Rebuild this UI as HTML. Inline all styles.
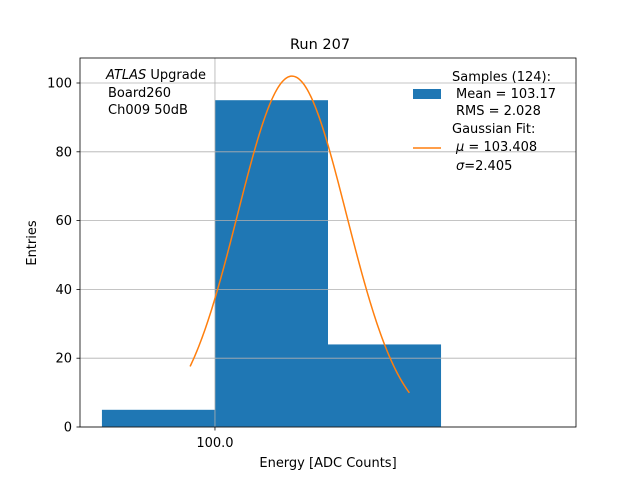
<!DOCTYPE html>
<html><head><meta charset="utf-8"><style>
body{margin:0;background:#fff;font-family:"DejaVu Sans","Liberation Sans",sans-serif}
</style></head><body>
<svg width="640" height="480" xmlns="http://www.w3.org/2000/svg" font-family="DejaVu Sans, Liberation Sans, sans-serif">
<rect width="640" height="480" fill="#fff"/>
<g id="bars"></g>
<g id="grid"></g>
<path id="fit" fill="none" stroke="#ff7f0e" stroke-width="1.5"/>
<rect x="80" y="58" width="496" height="369" fill="none" stroke="#000" stroke-width="0.8"/>
<g id="ticks" font-size="13" fill="#000"></g>
<text x="320" y="49" text-anchor="middle" font-size="14.5">Run 207</text>
<text x="328" y="467" text-anchor="middle" font-size="13">Energy [ADC Counts]</text>
<text transform="translate(36,243) rotate(-90)" text-anchor="middle" font-size="13">Entries</text>
<g font-size="13">
<text x="106" y="79"><tspan font-style="italic">ATLAS</tspan> Upgrade</text>
<text x="108" y="97">Board260</text>
<text x="108" y="114">Ch009 50dB</text>
</g>
<g font-size="13">
<rect x="413" y="89" width="28" height="10" fill="#1f77b4"/>
<text x="452" y="81">Samples (124):</text>
<text x="456" y="98">Mean = 103.17</text>
<text x="456" y="115">RMS = 2.028</text>
<line x1="413" y1="148" x2="441" y2="148" stroke="#ff7f0e" stroke-width="1.5"/>
<text x="452" y="133">Gaussian Fit:</text>
<text x="456" y="151"><tspan font-style="italic">μ</tspan> = 103.408</text>
<text x="456" y="170"><tspan font-style="italic">σ</tspan>=2.405</text>
</g>
</svg>
<script>
const binEdges=[95,100,105,110];
const counts=[5,95,24];
const yTicks=[0,20,40,60,80,100];
const xTicks=[100];
const xTickLabels=["100.0"];
const fitMu=103.408, fitSigma=2.405, fitAmp=102, fitRange=[98.9,108.6];
const X=v=>80+(v-94.03)*(496/21.94);
const Y=v=>427-v*3.44;
const NS="http://www.w3.org/2000/svg";
function mk(t,a,p){const e=document.createElementNS(NS,t);for(const k in a)e.setAttribute(k,a[k]);p.appendChild(e);return e;}
const g=document.getElementById('grid'),b=document.getElementById('bars'),tk=document.getElementById('ticks');
yTicks.forEach(v=>{
 const l=mk('line',{x1:80,x2:576,y1:Y(v),y2:Y(v),stroke:'#b0b0b0','stroke-width':0.8},g);
 
 
 mk('line',{x1:76.5,x2:80,y1:Y(v),y2:Y(v),stroke:'#000','stroke-width':0.8},tk);
 const t=mk('text',{x:72,y:Y(v)+4.5,'text-anchor':'end'},tk);t.textContent=v;
 
 
});
xTicks.forEach((v,i)=>{
 const l=mk('line',{x1:X(v),x2:X(v),y1:58,y2:427,stroke:'#b0b0b0','stroke-width':0.8},g);
 
 
 mk('line',{x1:X(v),x2:X(v),y1:427,y2:430.5,stroke:'#000','stroke-width':0.8},tk);
 const t=mk('text',{x:X(v),y:447,'text-anchor':'middle'},tk);t.textContent=xTickLabels[i];
 
 
});
counts.forEach((c,i)=>{
 const r=mk('rect',{x:X(binEdges[i]),y:Y(c),width:X(binEdges[i+1])-X(binEdges[i]),height:Y(0)-Y(c),fill:'#1f77b4'},b);
 
 
});
let d='';
for(let i=0;i<=200;i++){const x=fitRange[0]+(fitRange[1]-fitRange[0])*i/200;
 const y=fitAmp*Math.exp(-((x-fitMu)**2)/(2*fitSigma*fitSigma));
 d+=(i?'L':'M')+X(x).toFixed(2)+','+Y(y).toFixed(2);}
document.getElementById('fit').setAttribute('d',d);
</script>
</body></html>
